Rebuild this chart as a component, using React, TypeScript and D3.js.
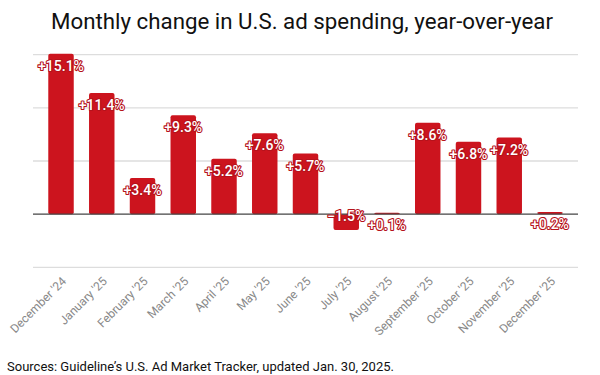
import React from "react";
import * as d3 from "d3";

const months = [
  "December '24", "January '25", "February '25", "March '25", "April '25", "May '25",
  "June '25", "July '25", "August '25", "September '25", "October '25", "November '25", "December '25",
];
const changes = [15.1, 11.4, 3.4, 9.3, 5.2, 7.6, 5.7, -1.5, 0.1, 8.6, 6.8, 7.2, 0.2];
const gridValues = [-5, 5, 10, 15];
const title = "Monthly change in U.S. ad spending, year-over-year";
const source = "Sources: Guideline\u2019s U.S. Ad Market Tracker, updated Jan. 30, 2025.";

const W = 600, H = 375;
const FONT = "Roboto, 'Noto Sans', sans-serif";

export default function App() {
  const x = d3.scaleBand<string>().domain(months).range([33, 578]).paddingInner(0.375).paddingOuter(0.375);
  const y = d3.scaleLinear().domain([-5, 15]).range([267.3, 54.7]);
  const fmt = (v: number) => (v >= 0 ? "+" : "") + d3.format(".1f")(v) + "%";
  const red = "#cc141e";
  return (
    <svg width={W} height={H}
      style={{ position: "absolute", left: 0, top: 0, display: "block", fontFamily: FONT, background: "#fff" }}>
      <text x={302} y={28.5} textAnchor="middle" fontSize={22.3} fill="#111">{title}</text>
      {gridValues.map((g) => (
        <line key={g} x1={33} x2={578} y1={y(g)} y2={y(g)} stroke="#ddd" strokeWidth={1.3} />
      ))}
      {changes.map((v, i) => {
        const x0 = x(months[i])!;
        const bw = x.bandwidth();
        const top = Math.min(y(v), y(0));
        const h = Math.max(Math.abs(y(v) - y(0)), 1.5);
        return <rect key={i} x={x0} y={v >= 0 ? y(0) - h : top} width={bw} height={h} rx={2} fill={red} />;
      })}
      <line x1={33} x2={578} y1={y(0)} y2={y(0)} stroke="#444" strokeWidth={1.2} />
      {changes.map((v, i) => {
        const cx = x(months[i])! + x.bandwidth() / 2;
        const ty = v >= 0 ? y(v) + 17 : y(v) - 9;
        return (
          <text key={i} x={cx} y={ty} textAnchor="middle" fontSize={14} fontWeight={500}
            fill="#fff" stroke="#b5121b" strokeWidth={2.2} paintOrder="stroke" strokeLinejoin="round">
            {fmt(v)}
          </text>
        );
      })}
      {months.map((m, i) => {
        const cx = x(m)! + x.bandwidth() / 2 + 6;
        const ty = 282;
        return (
          <text key={m} x={cx} y={ty} textAnchor="end" fontSize={12} fill="#888"
            transform={`rotate(-45 ${cx} ${ty})`}>{m}</text>
        );
      })}
      <text x={7} y={370.5} fontSize={13} fill="#111">{source}</text>
    </svg>
  );
}
